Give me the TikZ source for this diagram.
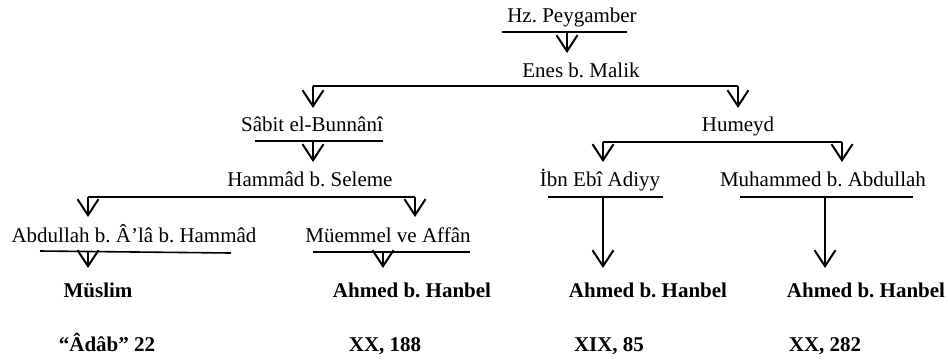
\documentclass[tikz,border=0pt]{standalone}
\usepackage{fontspec}
\setmainfont{Liberation Serif}
\usetikzlibrary{arrows.meta}
\frenchspacing
\begin{document}
\begin{tikzpicture}[x=1pt,y=-1pt,
  lbl/.style={anchor=base, inner sep=0pt, font=\fontsize{21}{25}\selectfont},
  blbl/.style={anchor=base, inner sep=0pt, font=\fontsize{21}{25}\selectfont\bfseries},
  ln/.style={line width=1.6pt},
  arr/.style={line width=1.6pt, -{Straight Barb[length=16pt,width=21pt,line width=2pt]}}]
\useasboundingbox (0,0) rectangle (948,360);

% names
\node[lbl] (hz) at (572,22) {Hz. Peygamber};
\node[lbl] (enes) at (581,77) {Enes b. Malik};
\node[lbl] (sabit) at (312,131) {Sâbit el-Bunnânî};
\node[lbl] (humeyd) at (738,131) {Humeyd};
\node[lbl] (hammad) at (310,186) {Hammâd b. Seleme};
\node[lbl] (ibn) at (600,186) {İbn Ebî Adiyy};
\node[lbl] (muh) at (823,186) {Muhammed b. Abdullah};
\node[lbl] (abd) at (134,242) {Abdullah b. Â’lâ b. Hammâd};
\node[lbl] (mue) at (388,242) {Müemmel ve Affân};
\node[blbl] (muslim) at (98,297) {Müslim};
\node[blbl] (ahmA) at (412,297) {Ahmed b. Hanbel};
\node[blbl] (ahmB) at (648,297) {Ahmed b. Hanbel};
\node[blbl] (ahmC) at (866,297) {Ahmed b. Hanbel};
\node[blbl] (adab) at (107,351) {“Âdâb” 22};
\node[blbl] (xxa) at (385,351) {XX, 188};
\node[blbl] (xix) at (609,351) {XIX, 85};
\node[blbl] (xxb) at (825,351) {XX, 282};

% coordinates
\coordinate (hzL) at (502,32);  \coordinate (hzR) at (627,32);
\coordinate (hzS) at (567,32);  \coordinate (hzT) at (567,53);
\coordinate (enL) at (313,86);  \coordinate (enR) at (738,86);
\coordinate (enLT) at (313,108); \coordinate (enRT) at (738,108);
\coordinate (sbL) at (255,141); \coordinate (sbR) at (383,141);
\coordinate (sbS) at (313,141); \coordinate (sbT) at (313,162);
\coordinate (huL) at (603,142); \coordinate (huR) at (842,142);
\coordinate (huLT) at (603,162); \coordinate (huRT) at (842,162);
\coordinate (haL) at (88,197);  \coordinate (haR) at (415,197);
\coordinate (haLT) at (88,217); \coordinate (haRT) at (415,217);
\coordinate (ibL) at (548,197); \coordinate (ibR) at (663,197);
\coordinate (ibS) at (603,197); \coordinate (ibT) at (603,268);
\coordinate (muL) at (740,197); \coordinate (muR) at (913,197);
\coordinate (muS) at (825,197); \coordinate (muT) at (825,268);
\coordinate (abL) at (40,251);  \coordinate (abR) at (231,253);
\coordinate (abS) at (88,252);  \coordinate (abT) at (88,268);
\coordinate (meL) at (313,252); \coordinate (meR) at (470,252);
\coordinate (meS) at (383,252); \coordinate (meT) at (383,268);

% lines
\draw[ln] (hzL) -- (hzR);
\draw[arr] (hzS) -- (hzT);
\draw[ln] (enL) -- (enR);
\draw[arr] (enL) -- (enLT);
\draw[arr] (enR) -- (enRT);
\draw[ln] (sbL) -- (sbR);
\draw[arr] (sbS) -- (sbT);
\draw[ln] (huL) -- (huR);
\draw[arr] (huL) -- (huLT);
\draw[arr] (huR) -- (huRT);
\draw[ln] (haL) -- (haR);
\draw[arr] (haL) -- (haLT);
\draw[arr] (haR) -- (haRT);
\draw[ln] (ibL) -- (ibR);
\draw[arr] (ibS) -- (ibT);
\draw[ln] (muL) -- (muR);
\draw[arr] (muS) -- (muT);
\draw[ln] (abL) -- (abR);
\draw[arr] (abS) -- (abT);
\draw[ln] (meL) -- (meR);
\draw[arr] (meS) -- (meT);
\end{tikzpicture}
\end{document}
